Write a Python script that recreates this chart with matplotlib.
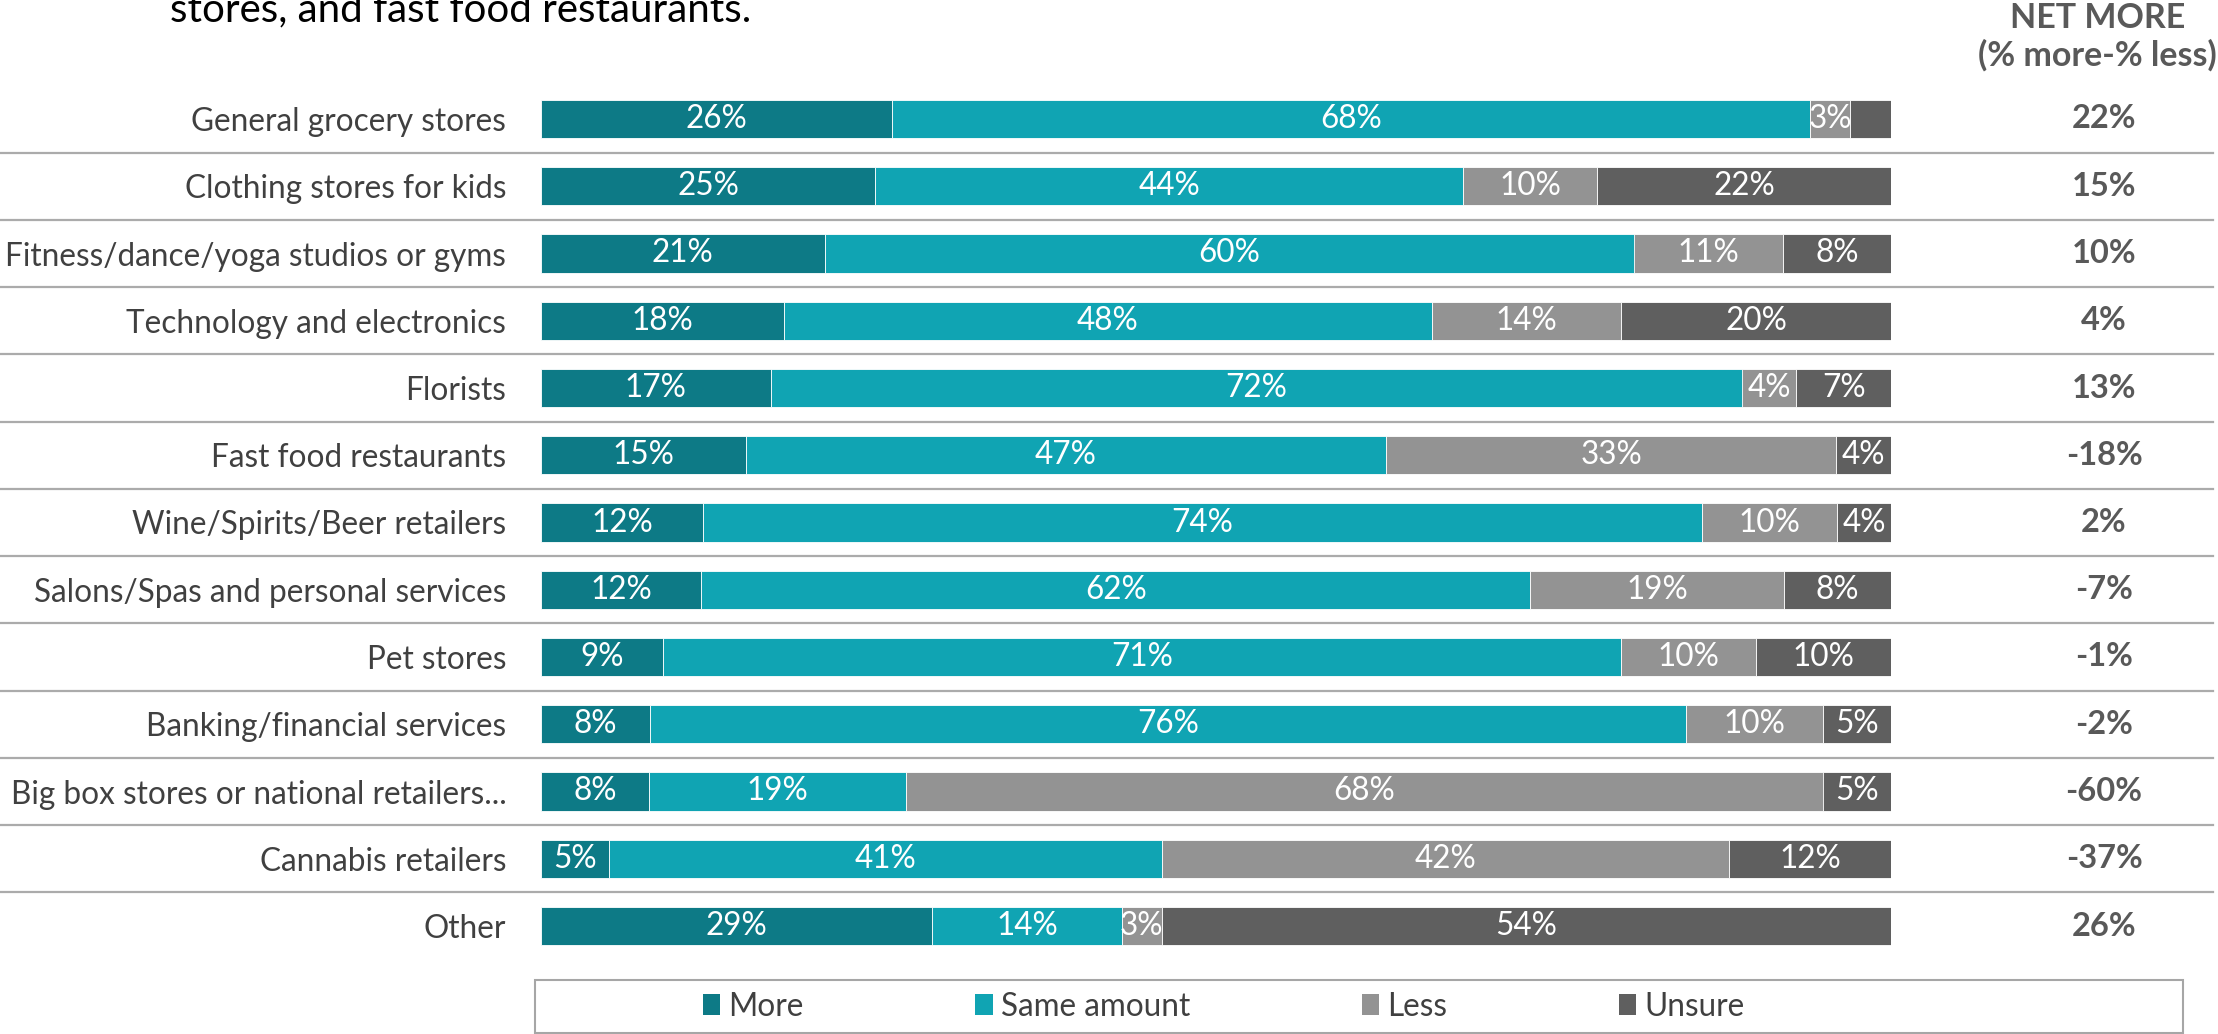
import matplotlib
matplotlib.use("Agg")
import matplotlib.pyplot as plt
from matplotlib.patches import Patch, Rectangle
from matplotlib.lines import Line2D
from matplotlib.transforms import blended_transform_factory

plt.rcParams['font.family'] = ['Lato', 'DejaVu Sans']

categories = [
    "General grocery stores",
    "Clothing stores for kids",
    "Fitness/dance/yoga studios or gyms",
    "Technology and electronics",
    "Florists",
    "Fast food restaurants",
    "Wine/Spirits/Beer retailers",
    "Salons/Spas and personal services",
    "Pet stores",
    "Banking/financial services",
    "Big box stores or national retailers...",
    "Cannabis retailers",
    "Other",
]
more = [26, 25, 21, 18, 17, 15, 12, 12, 9, 8, 8, 5, 29]
same = [68, 44, 60, 48, 72, 47, 74, 62, 71, 76, 19, 41, 14]
less = [3, 10, 11, 14, 4, 33, 10, 19, 10, 10, 68, 42, 3]
unsure = [3, 22, 8, 20, 7, 4, 4, 8, 10, 5, 5, 12, 54]
# segments whose value label is not printed (row, series)
hidden_labels = {(0, 3)}
net_more = [22, 15, 10, 4, 13, -18, 2, -7, -1, -2, -60, -37, 26]

series_names = ["More", "Same amount", "Less", "Unsure"]
series_colors = ["#0D7A86", "#10A4B3", "#939393", "#5F5F5F"]

W, H = 2218, 1034
fig = plt.figure(figsize=(W / 100, H / 100), dpi=100)

# axes in pixel terms: bars span x 541..1891, rows 119..926
row_gap = (926 - 119) / 12
ax_top = 119 - row_gap / 2
ax_bot = 926 + row_gap / 2
ax = fig.add_axes([541 / W, 1 - ax_bot / H, 1350 / W, (ax_bot - ax_top) / H])
ax.set_xlim(0, 100)
ax.set_ylim(len(categories) - 0.5, -0.5)

label_color = "#404040"
net_color = "#595959"
fs = 22.7

rows = list(range(len(categories)))
data = [more, same, less, unsure]
totals = [sum(vals) for vals in zip(*data)]
left = [0.0] * len(rows)
for s, (vals, color) in enumerate(zip(data, series_colors)):
    widths = [v / t * 100 for v, t in zip(vals, totals)]
    bars = ax.barh(rows, widths, left=left, height=0.57, color=color,
                   edgecolor="white", linewidth=0.6)
    for r, (b, v) in enumerate(zip(bars, vals)):
        if (r, s) in hidden_labels:
            continue
        ax.text(b.get_x() + b.get_width() / 2, r, f"{v}%", ha="center",
                va="center", color="white", fontsize=fs)
    left = [l + w for l, w in zip(left, widths)]

ax.set_yticks(rows)
ax.set_yticklabels(categories, fontsize=fs, color=label_color)
ax.tick_params(axis="y", length=0, pad=25)
ax.set_xticks([])
for sp in ax.spines.values():
    sp.set_visible(False)

# separator lines running across the whole figure between rows
sep_tr = blended_transform_factory(fig.transFigure, ax.transData)
for r in rows[:-1]:
    fig.add_artist(Line2D([0, 2213 / W], [r + 0.5, r + 0.5], transform=sep_tr,
                          color="#ababab", linewidth=1.6))

# net more column
net_x = 2104 / W
for r, v in zip(rows, net_more):
    ax.text(net_x, r, f"{v}%", transform=sep_tr, ha="center", va="center",
            fontsize=23.5, fontweight="bold", color=net_color)
fig.text(2098 / W, 1 - 18 / H, "NET MORE", ha="center", va="center",
         fontsize=24.5, fontweight="bold", color=net_color)
fig.text(2097 / W, 1 - 55 / H, "(% more-% less)", ha="center", va="center",
         fontsize=24.5, fontweight="bold", color=net_color)

# last line of the question text
fig.text(170 / W, 1 - 21 / H, "stores, and fast food restaurants.",
         ha="left", va="baseline", fontsize=29, color="#000000")

# legend
fig.add_artist(Rectangle((535 / W, 1 - 1033 / H), (2183 - 535) / W, (1033 - 980) / H,
                         transform=fig.transFigure, fill=False,
                         edgecolor="#a6a6a6", linewidth=1.5))
handles = [Patch(facecolor=c, edgecolor="none", label=n)
           for n, c in zip(series_names, series_colors)]
fig.legend(handles=handles, loc="center left",
           bbox_to_anchor=(703 / W, 1 - 1007 / H), ncol=4, frameon=False,
           fontsize=fs, handlelength=0.55, handleheight=0.65, handletextpad=0.25,
           columnspacing=5.45, borderpad=0, borderaxespad=0,
           labelcolor=label_color)

fig.savefig("out.png", dpi=100)
